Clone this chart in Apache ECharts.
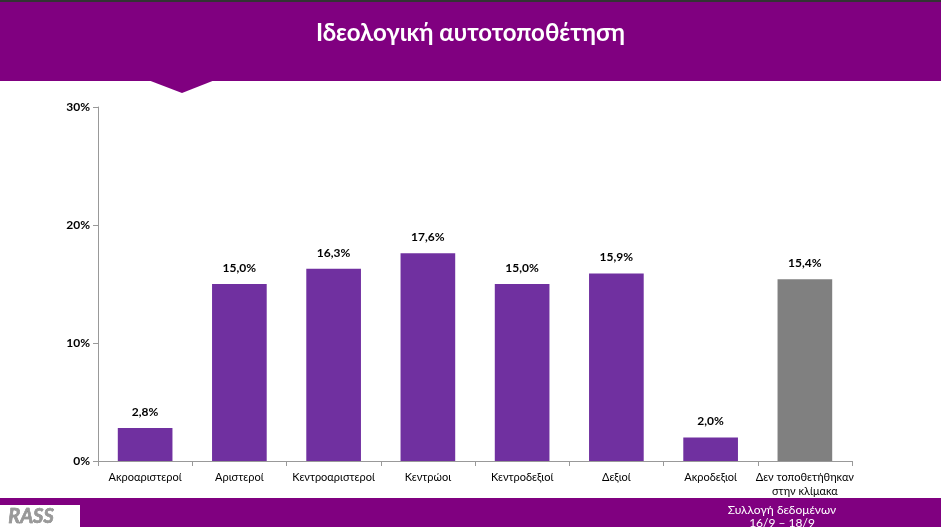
<!DOCTYPE html>
<html><head><meta charset="utf-8">
<script src="https://cdn.jsdelivr.net/npm/echarts@6/dist/echarts.min.js"></script>
<style>html,body{margin:0;padding:0;background:#fff}#c{width:941px;height:527px}</style>
</head><body><div id="c"></div>
<script>
const categories = ['Ακροαριστεροί','Αριστεροί','Κεντροαριστεροί','Κεντρώοι','Κεντροδεξιοί','Δεξιοί','Ακροδεξιοί','Δεν τοποθετήθηκαν\nστην κλίμακα'];
const values = [2.8,15.0,16.3,17.6,15.0,15.9,2.0,15.4];
const barColors = ['#7030A0','#7030A0','#7030A0','#7030A0','#7030A0','#7030A0','#7030A0','#808080'];
const yTicks = [0,10,20,30];
const F = 'Lato, "Open Sans", sans-serif';
const chart = echarts.init(document.getElementById('c'));
chart.setOption({
  animation:false,
  grid:{left:98,right:89,top:107,bottom:66,containLabel:false},
  graphic:[
    {type:'rect',shape:{x:0,y:0,width:941,height:2},style:{fill:'#333'}},
    {type:'rect',shape:{x:0,y:2,width:941,height:79},style:{fill:'#800080'}},
    {type:'polygon',shape:{points:[[148,80],[215,80],[182,93]]},style:{fill:'#800080'}},
    {type:'text',left:'center',top:21,style:{text:'Ιδεολογική αυτοτοποθέτηση',fill:'#fff',font:'bold 24px '+F}},
    {type:'rect',shape:{x:0,y:498,width:941,height:29},style:{fill:'#800080'}},
    {type:'rect',shape:{x:0,y:505,width:80,height:22},style:{fill:'#fff'}},
    {type:'text',left:8,top:506,style:{text:'RASS',fill:'#999',font:'italic bold 20px '+F,stroke:'#666',lineWidth:0.5}},
    {type:'text',x:782,y:504,style:{text:'Συλλογή δεδομένων\n16/9 – 18/9',fill:'#fff',font:'12px '+F,align:'center',lineHeight:13}}
  ],
  xAxis:{type:'category',data:categories,
    axisLine:{lineStyle:{color:'#999'}},axisTick:{show:true,alignWithLabel:false,lineStyle:{color:'#999'}},
    axisLabel:{color:'#000',fontSize:11,fontFamily:F,interval:0,margin:9,lineHeight:14}},
  yAxis:{type:'value',min:0,max:30,interval:10,
    axisLine:{show:true,lineStyle:{color:'#999'}},axisTick:{show:true,lineStyle:{color:'#999'}},
    splitLine:{show:false},
    axisLabel:{color:'#000',fontSize:12,fontWeight:'bold',fontFamily:F,formatter:v=>yTicks.includes(v)?v+'%':''}},
  series:[{type:'bar',barWidth:'58%',
    data:values.map((v,i)=>({value:v,itemStyle:{color:barColors[i]}})),
    label:{show:true,position:'top',distance:10,color:'#000',fontSize:12,fontWeight:'bold',fontFamily:F,
      formatter:p=>p.value.toFixed(1).replace('.',',')+'%'}}]
});
</script></body></html>
